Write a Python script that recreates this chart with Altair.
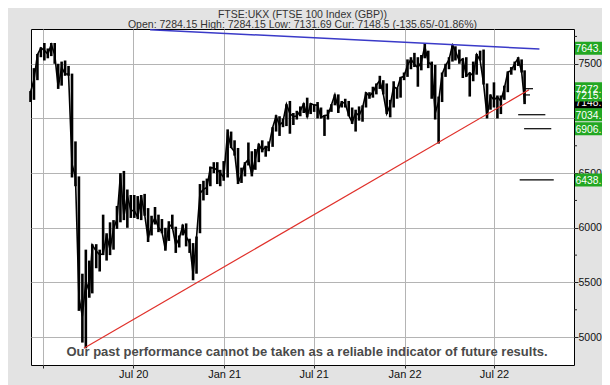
import altair as alt
import pandas as pd

# ---------------- data ----------------
week_end = [
    "2019-12-06", "2019-12-13", "2019-12-20", "2019-12-27",
    "2020-01-03", "2020-01-10", "2020-01-17", "2020-01-24", "2020-01-31",
    "2020-02-07", "2020-02-14", "2020-02-21", "2020-02-28",
    "2020-03-06", "2020-03-13", "2020-03-20", "2020-03-27",
    "2020-04-03", "2020-04-09", "2020-04-17", "2020-04-24",
    "2020-05-01", "2020-05-08", "2020-05-15", "2020-05-22", "2020-05-29",
    "2020-06-05", "2020-06-12", "2020-06-19", "2020-06-26",
    "2020-07-03", "2020-07-10", "2020-07-17", "2020-07-24", "2020-07-31",
    "2020-08-07", "2020-08-14", "2020-08-21", "2020-08-28",
    "2020-09-04", "2020-09-11", "2020-09-18", "2020-09-25",
    "2020-10-02", "2020-10-09", "2020-10-16", "2020-10-23", "2020-10-30",
    "2020-11-06", "2020-11-13", "2020-11-20", "2020-11-27",
    "2020-12-04", "2020-12-11", "2020-12-18", "2020-12-24", "2020-12-31",
    "2021-01-08", "2021-01-15", "2021-01-22", "2021-01-29",
    "2021-02-05", "2021-02-12", "2021-02-19", "2021-02-26",
    "2021-03-05", "2021-03-12", "2021-03-19", "2021-03-26",
    "2021-04-01", "2021-04-09", "2021-04-16", "2021-04-23", "2021-04-30",
    "2021-05-07", "2021-05-14", "2021-05-21", "2021-05-28",
    "2021-06-04", "2021-06-11", "2021-06-18", "2021-06-25",
    "2021-07-02", "2021-07-09", "2021-07-16", "2021-07-23", "2021-07-30",
    "2021-08-06", "2021-08-13", "2021-08-20", "2021-08-27",
    "2021-09-03", "2021-09-10", "2021-09-17", "2021-09-24",
    "2021-10-01", "2021-10-08", "2021-10-15", "2021-10-22", "2021-10-29",
    "2021-11-05", "2021-11-12", "2021-11-19", "2021-11-26",
    "2021-12-03", "2021-12-10", "2021-12-17", "2021-12-24", "2021-12-31",
    "2022-01-07", "2022-01-14", "2022-01-21", "2022-01-28",
    "2022-02-04", "2022-02-11", "2022-02-18", "2022-02-25",
    "2022-03-04", "2022-03-11", "2022-03-18", "2022-03-25",
    "2022-04-01", "2022-04-08", "2022-04-14", "2022-04-22", "2022-04-29",
    "2022-05-06", "2022-05-13", "2022-05-20", "2022-05-27",
    "2022-06-03", "2022-06-10", "2022-06-17", "2022-06-24",
    "2022-07-01", "2022-07-08", "2022-07-15", "2022-07-22", "2022-07-29",
    "2022-08-05", "2022-08-12", "2022-08-19", "2022-08-26", "2022-09-01",
]
week_low = [
    7150, 7170, 7350, 7560,
    7530, 7550, 7570, 7500, 7270,
    7300, 7390, 7390, 6460,
    6380, 5240, 4950, 4898,
    5360, 5400, 5630, 5600,
    5750, 5700, 5750, 5800, 5990,
    6050, 6070, 6000, 6090,
    6090, 6080, 6070, 6110, 5870,
    5930, 6030, 5960, 5950,
    5790, 5880, 5990, 5770,
    5820, 5930, 5830, 5770, 5520,
    5580, 5950, 6250, 6300,
    6380, 6500, 6400, 6380, 6430,
    6460, 6730, 6660, 6400,
    6410, 6470, 6570, 6470,
    6530, 6600, 6690, 6650,
    6700, 6740, 6880, 6840, 6920,
    6930, 6860, 6940, 6990,
    7020, 7050, 7010, 7040,
    7060, 7000, 7000, 6840, 6990,
    7060, 7120, 7050, 7100,
    7100, 7020, 6950, 6880,
    6980, 6970, 7100, 7180, 7190,
    7220, 7270, 7220, 7040,
    7010, 7100, 7180, 7190, 7350,
    7380, 7450, 7470, 7290,
    7440, 7550, 7460, 7180,
    6990, 6770, 7150, 7380,
    7450, 7520, 7530, 7500, 7370,
    7380, 7200, 7340, 7400,
    7530, 7310, 7000, 7080,
    7100, 7000, 7040, 7170, 7240,
    7400, 7440, 7480, 7420, 7131,
]
week_high = [
    7250, 7460, 7590, 7650,
    7690, 7640, 7690, 7690, 7500,
    7520, 7530, 7480, 7410,
    6790, 6470, 5580, 5800,
    5700, 5850, 5850, 5800,
    6120, 5950, 6050, 6070, 6200,
    6500, 6520, 6350, 6300,
    6300, 6290, 6300, 6310, 6180,
    6110, 6190, 6120, 6080,
    6000, 6060, 6120, 6010,
    5930, 6030, 6040, 5900, 5860,
    5920, 6400, 6430, 6450,
    6560, 6600, 6600, 6530, 6610,
    6900, 6880, 6800, 6730,
    6550, 6600, 6780, 6700,
    6720, 6770, 6800, 6750,
    6790, 6920, 7030, 7020, 7000,
    7130, 7160, 7050, 7070,
    7110, 7140, 7190, 7140,
    7130, 7150, 7100, 7030, 7080,
    7130, 7220, 7220, 7160,
    7180, 7160, 7100, 7080,
    7110, 7120, 7240, 7240, 7290,
    7320, 7390, 7350, 7320,
    7170, 7340, 7280, 7380, 7420,
    7540, 7560, 7600, 7560,
    7580, 7687, 7620, 7520,
    7490, 7200, 7420, 7500,
    7560, 7670, 7660, 7630, 7550,
    7560, 7420, 7520, 7590,
    7620, 7630, 7320, 7220,
    7330, 7210, 7210, 7300, 7430,
    7470, 7520, 7560, 7540, 7440,
]
week_close = [
    7240, 7353, 7582, 7645,
    7623, 7588, 7675, 7586, 7286,
    7466, 7409, 7404, 6581,
    6463, 5366, 5191, 5510,
    5416, 5843, 5787, 5752,
    5763, 5936, 5800, 5993, 6077,
    6484, 6105, 6293, 6159,
    6157, 6095, 6290, 6123, 5898,
    6032, 6090, 6002, 5964,
    5799, 6032, 6007, 5843,
    5902, 6017, 5920, 5860, 5577,
    5910, 6316, 6351, 6368,
    6550, 6547, 6529, 6502, 6461,
    6873, 6736, 6695, 6407,
    6489, 6589, 6624, 6483,
    6631, 6761, 6709, 6741,
    6737, 6915, 7020, 6938, 6970,
    7130, 7044, 7018, 7023,
    7069, 7134, 7017, 7136,
    7123, 7122, 7008, 7027, 7032,
    7122, 7218, 7087, 7148,
    7138, 7029, 6964, 7051,
    7027, 7095, 7234, 7205, 7238,
    7304, 7348, 7224, 7044,
    7122, 7292, 7270, 7373, 7385,
    7486, 7543, 7494, 7466,
    7516, 7661, 7514, 7489,
    7047, 7156, 7405, 7483,
    7538, 7670, 7616, 7522, 7545,
    7388, 7418, 7390, 7585,
    7533, 7318, 7016, 7208,
    7169, 7196, 7159, 7276, 7423,
    7440, 7501, 7551, 7427, 7148.5,
]

support_dates = ["2020-03-23", "2022-09-10"]
support_values = [4898, 7262]
resist_dates = ["2020-08-04", "2022-10-01"]
resist_values = [7812, 7635]

target_levels = [7272, 7215, 7034, 6906, 6438]
target_from = ["2022-09-01", "2022-09-01", "2022-08-19", "2022-08-31", "2022-08-22"]
target_to = ["2022-09-18", "2022-09-12", "2022-10-13", "2022-10-25", "2022-10-30"]

current_level = [7148.5]
current_text = ["7148."]
green_levels = [7215, 7272, 7034, 6906, 6438, 7643]
green_text = ["7215.", "7272.", "7034.", "6906.", "6438.", "7643."]

major_ticks = [5000, 5500, 6000, 6500, 7000, 7500]
minor_ticks = [5250, 5750, 6250, 6750, 7250, 7750]
title_text = "FTSE:UKX (FTSE 100 Index (GBP))"
subtitle_text = "Open: 7284.15 High: 7284.15 Low: 7131.69 Cur: 7148.5 (-135.65/-01.86%)"
disclaimer = "Our past performance cannot be taken as a reliable indicator of future results."

# ---------------- tables ----------------
prices = pd.DataFrame({"date": week_end, "low": week_low, "high": week_high, "close": week_close})
support = pd.DataFrame({"date": support_dates, "value": support_values})
resist = pd.DataFrame({"date": resist_dates, "value": resist_values})
targets = pd.DataFrame({"start": target_from, "end": target_to, "level": target_levels})
cur = pd.DataFrame({"level": current_level, "label": current_text})
greens = pd.DataFrame({"level": green_levels, "label": green_text})
minors = pd.DataFrame({"level": minor_ticks})
note = pd.DataFrame({"t": [disclaimer]})

FONT = "Liberation Sans"
W, H = 543, 336

x_scale = alt.Scale(domain=[alt.DateTime(year=2019, month=12, date=7),
                            alt.DateTime(year=2022, month=12, date=10)])
y_scale = alt.Scale(domain=[4745, 7818], nice=False, zero=False)

x_axis = alt.Axis(
    values=[alt.DateTime(year=2020, month=1, date=1), alt.DateTime(year=2020, month=7, date=1),
            alt.DateTime(year=2021, month=1, date=1), alt.DateTime(year=2021, month=7, date=1),
            alt.DateTime(year=2022, month=1, date=1), alt.DateTime(year=2022, month=7, date=1)],
    format="%b %y",
    labelExpr="datum.value < datetime(2020, 2, 1) ? '' : datum.label",
    title=None, grid=True, gridColor="#b4b4b4", domain=False,
    tickSize=3, labelPadding=0, tickColor="#222222",
    labelColor="#111111", labelFont=FONT, labelFontSize=11,
)
# the 7000 label sits fully under the 7034/6906 boxes in the reference
y_axis = alt.Axis(
    orient="right", values=major_ticks, format="d", title=None,
    labelExpr="datum.value == 7000 ? '' : datum.label",
    grid=True, gridColor="#b4b4b4", domain=False,
    tickSize=4, labelPadding=0, labelAlign="left", tickColor="#222222",
    labelColor="#111111", labelFont=FONT, labelFontSize=10.5,
)


def X(field):
    return alt.X(field, scale=x_scale, title=None)


def Y(field):
    return alt.Y(field, scale=y_scale, title=None)


bars = alt.Chart(prices).mark_rule(color="black", strokeWidth=2.6).encode(
    x=alt.X("date:T", scale=x_scale, axis=x_axis),
    y=alt.Y("low:Q", scale=y_scale, axis=y_axis),
    y2="high:Q",
)
closes = alt.Chart(prices).mark_line(color="black", strokeWidth=1.6).encode(
    x=X("date:T"), y=Y("close:Q"),
)
sup = alt.Chart(support).mark_line(color="#e0302a", strokeWidth=1.2).encode(
    x=X("date:T"), y=Y("value:Q"),
)
res = alt.Chart(resist).mark_line(color="#3a3ac8", strokeWidth=1.5).encode(
    x=X("date:T"), y=Y("value:Q"),
)
tgt = alt.Chart(targets).mark_rule(color="black", strokeWidth=1.2).encode(
    x=X("start:T"), x2="end:T", y=Y("level:Q"),
)
minor = alt.Chart(minors).mark_rule(color="#222222", strokeWidth=1).encode(
    x=alt.value(W), x2=alt.value(W + 3), y=Y("level:Q"),
)

BOX = "M0,-1H5V1H0Z"   # 13 px tall, 32 px wide at size 169
cur_box = alt.Chart(cur).mark_point(shape=BOX, filled=True, size=169, opacity=1,
                                    color="black", strokeWidth=0).encode(
    x=alt.value(W + 1), y=Y("level:Q"))
cur_txt = alt.Chart(cur).mark_text(align="left", baseline="middle", dy=1, fontSize=10.3,
                                   font=FONT, color="white").encode(
    x=alt.value(W + 1.5), y=Y("level:Q"), text="label:N")
green_box = alt.Chart(greens).mark_point(shape=BOX, filled=True, size=169, opacity=1,
                                         color="#22a722", strokeWidth=0).encode(
    x=alt.value(W + 1), y=Y("level:Q"))
green_txt = alt.Chart(greens).mark_text(align="left", baseline="middle", dy=1, fontSize=10.3,
                                        font=FONT, color="white").encode(
    x=alt.value(W + 1.5), y=Y("level:Q"), text="label:N")

note_txt = alt.Chart(note).mark_text(
    align="center", baseline="alphabetic", fontSize=13, fontWeight="bold",
    font=FONT, color="#4a4a4a").encode(x=alt.value(276), y=alt.value(327), text="t:N")

chart = alt.layer(
    bars, closes, sup, res, tgt, minor, cur_box, cur_txt, green_box, green_txt, note_txt
).properties(
    width=W, height=H,
    autosize=alt.AutoSizeParams(type="none"),
    padding={"left": 23, "top": 21, "right": 28, "bottom": 20},
    background="#e3e3e3",
    title=alt.TitleParams(
        text=title_text, subtitle=subtitle_text, anchor="middle",
        font=FONT, fontSize=10.5, fontWeight="normal", color="#333333",
        subtitleFont=FONT, subtitleFontSize=10.5, subtitleColor="#333333",
        offset=-4, subtitlePadding=0,
    ),
).configure_view(
    stroke="black", strokeWidth=1, fill="white"
)

chart.save("out.html", embed_options={"renderer": "svg", "actions": False})
